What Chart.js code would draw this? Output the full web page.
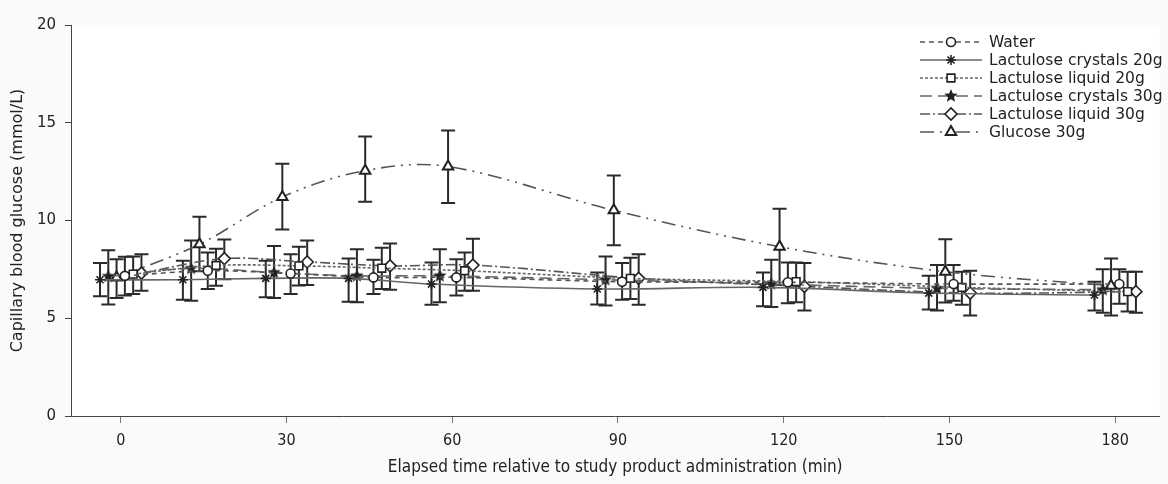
<!DOCTYPE html>
<html>
<head>
<meta charset="utf-8">
<script src="https://cdn.jsdelivr.net/npm/chart.js@4.4.1/dist/chart.umd.min.js"></script>
<style>
  html, body { margin: 0; padding: 0; background: #fafafa; }
  #c { display: block; }
</style>
</head>
<body>
<canvas id="c" width="1168" height="484"></canvas>
<script>
// sampling times (min) and axis ticks
var times = [0, 15, 30, 45, 60, 90, 120, 150, 180];
var xTicks = [0, 30, 60, 90, 120, 150, 180];
var yTicks = [0, 5, 10, 15, 20];

// mean and error bar ends (mmol/L)
var waterMean  = [7.17, 7.43, 7.29, 7.09, 7.09, 6.87, 6.84, 6.75, 6.75];
var waterHi    = [8.14, 8.36, 8.27, 7.99, 8.02, 7.82, 7.85, 7.72, 7.51];
var waterLo    = [6.16, 6.50, 6.24, 6.24, 6.16, 5.95, 5.77, 5.90, 5.74];

var cryst20Mean = [6.97, 6.97, 7.04, 7.04, 6.75, 6.50, 6.58, 6.29, 6.19];
var cryst20Hi   = [7.82, 7.94, 7.94, 8.05, 7.85, 7.34, 7.34, 7.17, 6.87];
var cryst20Lo   = [6.13, 5.95, 6.08, 5.85, 5.69, 5.70, 5.62, 5.45, 5.40];

var liq20Mean = [7.26, 7.70, 7.68, 7.56, 7.43, 7.04, 6.87, 6.58, 6.36];
var liq20Hi   = [8.16, 8.56, 8.66, 8.61, 8.36, 8.09, 7.85, 7.38, 7.38];
var liq20Lo   = [6.24, 6.66, 6.67, 6.50, 6.41, 5.99, 5.82, 5.69, 5.35];

var cryst30Mean = [7.14, 7.55, 7.34, 7.17, 7.17, 6.97, 6.75, 6.53, 6.46];
var cryst30Hi   = [8.48, 8.98, 8.70, 8.53, 8.53, 8.16, 7.99, 7.72, 7.51];
var cryst30Lo   = [5.70, 5.90, 6.03, 5.82, 5.82, 5.65, 5.57, 5.40, 5.28];

var liq30Mean = [7.31, 8.05, 7.88, 7.68, 7.72, 7.04, 6.63, 6.29, 6.36];
var liq30Hi   = [8.27, 9.03, 8.98, 8.82, 9.07, 8.27, 7.82, 7.43, 7.38];
var liq30Lo   = [6.41, 7.00, 6.70, 6.46, 6.41, 5.69, 5.40, 5.14, 5.28];

var glucMean = [7.09, 8.78, 11.20, 12.55, 12.76, 10.52, 8.66, 7.38, 6.66];
var glucHi   = [8.02, 10.19, 12.90, 14.30, 14.60, 12.30, 10.60, 9.04, 8.05];
var glucLo   = [6.03, 7.40, 9.54, 10.96, 10.90, 8.73, 6.70, 5.80, 5.14];

// five point star marker (no built-in style for it)
function makeStar(r) {
  var c = document.createElement('canvas');
  c.width = c.height = r * 2 + 2;
  var g = c.getContext('2d');
  g.translate(r + 1, r + 1);
  g.beginPath();
  for (var i = 0; i < 10; i++) {
    var rad = i % 2 ? r * 0.45 : r;
    var a = -Math.PI / 2 + i * Math.PI / 5;
    g.lineTo(Math.cos(a) * rad, Math.sin(a) * rad);
  }
  g.closePath();
  g.fillStyle = '#222';
  g.fill();
  return c;
}
var starImg = makeStar(7);

function series(label, mean, hi, lo, shift, style) {
  var pts = [];
  for (var i = 0; i < times.length; i++) {
    pts.push({x: times[i] + shift, y: mean[i], hi: hi[i], lo: lo[i]});
  }
  return Object.assign({
    label: label,
    data: pts,
    borderWidth: 1.6,
    tension: 0.35,
    pointBorderColor: '#222',
    pointBackgroundColor: '#fff',
    pointBorderWidth: 1.6,
    fill: false
  }, style);
}

var datasets = [
  series('Water', waterMean, waterHi, waterLo, 0.75,
    {borderColor: '#555', borderDash: [5, 4], pointStyle: 'circle', pointRadius: 4.5}),
  series('Lactulose crystals 20g', cryst20Mean, cryst20Hi, cryst20Lo, -3.75,
    {borderColor: '#666', borderDash: [], pointStyle: 'star', pointRadius: 5}),
  series('Lactulose liquid 20g', liq20Mean, liq20Hi, liq20Lo, 2.25,
    {borderColor: '#666', borderDash: [3, 2], pointStyle: 'rect', pointRadius: 5.5}),
  series('Lactulose crystals 30g', cryst30Mean, cryst30Hi, cryst30Lo, -2.25,
    {borderColor: '#666', borderDash: [12, 6], pointStyle: starImg, pointRadius: 7}),
  series('Lactulose liquid 30g', liq30Mean, liq30Hi, liq30Lo, 3.75,
    {borderColor: '#555', borderDash: [10, 3, 2, 3], pointStyle: 'rectRot', pointRadius: 6}),
  series('Glucose 30g', glucMean, glucHi, glucLo, -0.75,
    {borderColor: '#555', borderDash: [14, 6, 2, 6, 2, 6], pointStyle: 'triangle', pointRadius: 6, pointBorderWidth: 2})
];

var bgPlugin = {
  id: 'bg',
  beforeDraw: function (chart) {
    var ctx = chart.ctx, a = chart.chartArea;
    ctx.save();
    ctx.fillStyle = '#fafafa';
    ctx.fillRect(0, 0, chart.width, chart.height);
    ctx.fillStyle = '#fff';
    ctx.fillRect(a.left, a.top, a.right - a.left, a.bottom - a.top);
    ctx.restore();
  }
};

var errorBars = {
  id: 'errorBars',
  beforeDatasetsDraw: function (chart) {
    var ctx = chart.ctx, xs = chart.scales.x, ys = chart.scales.y;
    ctx.save();
    ctx.strokeStyle = '#2a2a2a';
    ctx.lineWidth = 2;
    chart.data.datasets.forEach(function (ds) {
      ds.data.forEach(function (p) {
        var x = xs.getPixelForValue(p.x);
        var y1 = ys.getPixelForValue(p.hi), y2 = ys.getPixelForValue(p.lo);
        ctx.beginPath();
        ctx.moveTo(x, y1); ctx.lineTo(x, y2);
        ctx.moveTo(x - 7, y1); ctx.lineTo(x + 7, y1);
        ctx.moveTo(x - 7, y2); ctx.lineTo(x + 7, y2);
        ctx.stroke();
      });
    });
    ctx.restore();
  }
};

var legendPlugin = {
  id: 'sideLegend',
  afterDraw: function (chart) {
    var ctx = chart.ctx;
    ctx.save();
    ctx.font = '15.5px "DejaVu Sans", Verdana, sans-serif';
    ctx.textBaseline = 'middle';
    chart.data.datasets.forEach(function (ds, i) {
      var y = 42 + i * 18;
      ctx.strokeStyle = ds.borderColor;
      ctx.lineWidth = ds.borderWidth;
      ctx.setLineDash(ds.borderDash);
      ctx.beginPath();
      ctx.moveTo(920, y); ctx.lineTo(982, y);
      ctx.stroke();
      ctx.setLineDash([]);
      ctx.fillStyle = ds.pointBackgroundColor;
      ctx.strokeStyle = ds.pointBorderColor;
      ctx.lineWidth = ds.pointBorderWidth;
      Chart.helpers.drawPoint(ctx, {
        pointStyle: ds.pointStyle, radius: ds.pointRadius, rotation: 0, borderWidth: ds.pointBorderWidth
      }, 951, y);
      ctx.fillStyle = '#222';
      ctx.fillText(ds.label, 989, y + 1);
    });
    ctx.restore();
  }
};

var condensed = '"DejaVu Sans Condensed", "Liberation Sans Narrow", "DejaVu Sans", sans-serif';

new Chart(document.getElementById('c'), {
  type: 'line',
  data: {datasets: datasets},
  plugins: [bgPlugin, errorBars, legendPlugin],
  options: {
    responsive: false,
    animation: false,
    devicePixelRatio: 1,
    layout: {padding: {top: 25, right: 2, left: 0, bottom: 0}},
    plugins: {legend: {display: false}, tooltip: {enabled: false}},
    scales: {
      x: {
        type: 'linear',
        min: -9,
        max: 188,
        afterBuildTicks: function (axis) { axis.ticks = xTicks.map(function (v) { return {value: v}; }); },
        afterFit: function (axis) { axis.height = 68; },
        grid: {drawOnChartArea: false, tickLength: 7, color: '#777'},
        border: {display: true, color: '#444', width: 1},
        ticks: {color: '#222', padding: 8, maxRotation: 0, font: {family: condensed, size: 16}},
        title: {
          display: true,
          text: 'Elapsed time relative to study product administration (min)',
          color: '#222',
          font: {family: condensed, size: 17},
          padding: {top: 0, bottom: 6}
        }
      },
      y: {
        min: 0,
        max: 20,
        afterBuildTicks: function (axis) { axis.ticks = yTicks.map(function (v) { return {value: v}; }); },
        afterFit: function (axis) { axis.width = 71; },
        grid: {drawOnChartArea: false, tickLength: 6, color: '#444'},
        border: {display: true, color: '#444', width: 1},
        ticks: {color: '#222', padding: 9, font: {family: '"DejaVu Sans", Verdana, sans-serif', size: 15}},
        title: {
          display: true,
          text: 'Capillary blood glucose (mmol/L)',
          color: '#222',
          font: {family: '"DejaVu Sans", Verdana, sans-serif', size: 16},
          padding: {top: 8, bottom: 0}
        }
      }
    }
  }
});
</script>
</body>
</html>
